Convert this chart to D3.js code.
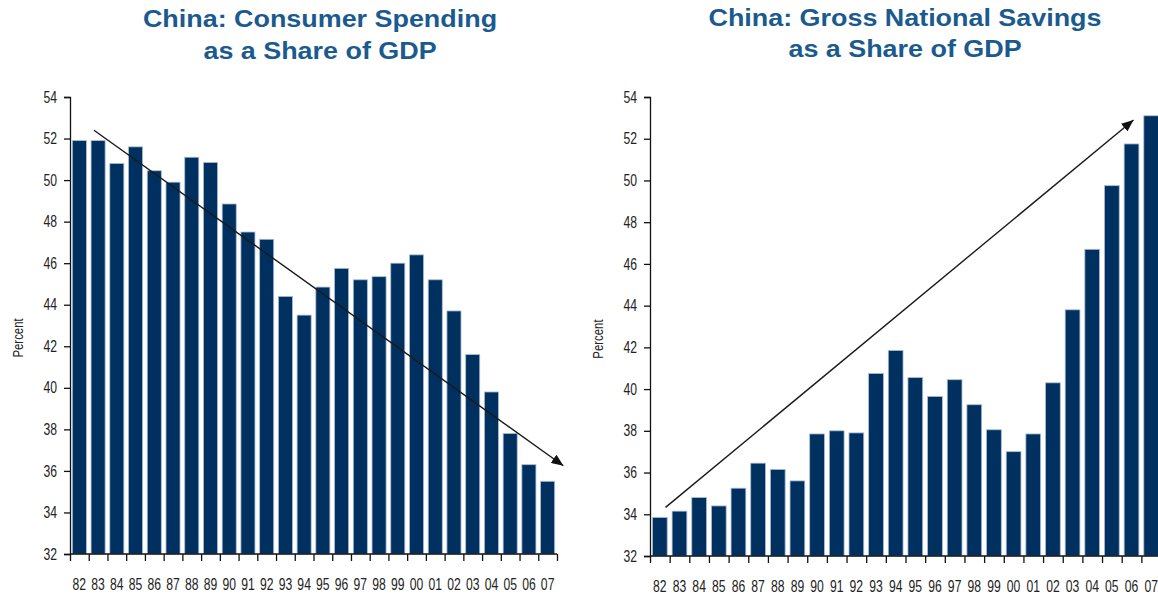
<!doctype html>
<html>
  <head>
    <meta charset="utf-8">
    <title>China: Consumer Spending and Gross National Savings</title>
    <script src="https://cdn.jsdelivr.net/npm/d3@7"></script>
    <style>
      body { margin: 0; background: #fff; }
      .title { font-family: "Liberation Sans", Arial, sans-serif; font-weight: bold; font-size: 23px; fill: #1b5a8f; }
      .axis text { font-family: "Liberation Sans", Arial, sans-serif; font-size: 16px; fill: #222; }
      .ylab { font-family: "Liberation Sans", Arial, sans-serif; font-size: 15px; fill: #222; }
    </style>
  </head>
  <body>
  <script>

  // years shown on both charts
  var years = ["82","83","84","85","86","87","88","89","90","91","92","93","94",
               "95","96","97","98","99","00","01","02","03","04","05","06","07"];

  // consumer spending, % of GDP
  var spending = [51.9, 51.9, 50.8, 51.6, 50.45, 49.9, 51.1, 50.85, 48.85, 47.5, 47.15, 44.4, 43.5,
                  44.85, 45.75, 45.2, 45.35, 46.0, 46.4, 45.2, 43.7, 41.6, 39.8, 37.8, 36.3, 35.5];

  // gross national savings, % of GDP
  var savings = [33.85, 34.15, 34.8, 34.4, 35.25, 36.45, 36.15, 35.6, 37.85, 38.0, 37.9, 40.75, 41.85,
                 40.55, 39.65, 40.45, 39.25, 38.05, 37.0, 37.85, 40.3, 43.8, 46.7, 49.75, 51.75, 53.1];

  var yTicks = [32, 34, 36, 38, 40, 42, 44, 46, 48, 50, 52, 54];

  // trend arrows: [category position, value] for start and tip
  var spendingTrend = [[1.28, 52.4], [26.34, 36.25]];
  var savingsTrend = [[0.79, 34.33], [24.6, 52.9]];

  var width = 1158;
  var height = 596;
  var barColor = "#00305f";
  var narrow = 0.76;   // squeeze for the narrow axis font

  var svg = d3.select("body").append("svg")
    .attr("width", width)
    .attr("height", height);

  svg.append("defs").append("marker")
    .attr("id", "head")
    .attr("viewBox", "0 0 12 10")
    .attr("refX", 12).attr("refY", 5)
    .attr("markerWidth", 12).attr("markerHeight", 10)
    .attr("markerUnits", "userSpaceOnUse")
    .attr("orient", "auto")
    .append("path")
    .attr("d", "M0,0 L12,5 L0,10 Z")
    .attr("fill", "#111");

  function drawChart(opts) {
    var g = svg.append("g");

    var x = d3.scaleBand().domain(years).range(opts.xr).paddingInner(0.25).paddingOuter(0.125);
    var xi = d3.scaleLinear().domain([0, years.length]).range(opts.xr);
    var y = d3.scaleLinear().domain([32, 54]).range(opts.yr);

    g.selectAll("rect.bar").data(opts.values).enter()
      .append("rect")
      .attr("class", "bar")
      .attr("x", function (d, i) { return x(years[i]); })
      .attr("width", x.bandwidth())
      .attr("y", function (d) { return y(d); })
      .attr("height", function (d) { return y(32) - y(d); })
      .attr("fill", barColor)
      .attr("stroke", "#a9bdd3")
      .attr("stroke-width", 0.8);

    // y axis
    var ya = g.append("g").attr("class", "axis")
      .attr("transform", "translate(" + opts.xr[0] + ",0)")
      .call(d3.axisLeft(y).tickValues(yTicks).tickSize(6).tickPadding(11));
    ya.selectAll("line, path").attr("stroke", "#111").attr("stroke-width", 1.3);
    ya.selectAll("text").attr("transform", "scale(" + narrow + ",1)");

    // x axis: ticks between bars, labels centered under bars
    var xa = g.append("g").attr("class", "axis")
      .attr("transform", "translate(0," + opts.yr[0] + ")")
      .call(d3.axisBottom(xi).tickValues(d3.range(0, years.length + 1)).tickSize(7).tickFormat(""));
    xa.selectAll("line, path").attr("stroke", "#111").attr("stroke-width", 1.3);
    xa.select("path").attr("d", "M" + opts.xr[0] + ",0H" + opts.xr[1]);

    var xl = g.append("g").attr("class", "axis")
      .attr("transform", "translate(0," + opts.yr[0] + ")")
      .call(d3.axisBottom(x).tickSize(0).tickPadding(25));
    xl.select("path").remove();
    xl.selectAll("text").attr("transform", "scale(" + narrow + ",1)");

    // y label
    g.append("text")
      .attr("class", "ylab")
      .attr("transform", "translate(" + opts.ylabX + "," + y(42.4) + ") rotate(-90) scale(" + narrow + ",1)")
      .attr("text-anchor", "middle")
      .text("Percent");

    // title, stretched a little wider like the original
    opts.title.forEach(function (line, i) {
      g.append("text")
        .attr("class", "title")
        .attr("text-anchor", "middle")
        .attr("transform", "translate(" + opts.titleX + "," + opts.titleY[i] + ") scale(1.17,1)")
        .text(line);
    });

    // trend arrow
    g.append("line")
      .attr("x1", xi(opts.trend[0][0])).attr("y1", y(opts.trend[0][1]))
      .attr("x2", xi(opts.trend[1][0])).attr("y2", y(opts.trend[1][1]))
      .attr("stroke", "#1a1a1a")
      .attr("stroke-width", 1.4)
      .attr("marker-end", "url(#head)");
  }

  drawChart({
    values: spending,
    xr: [70, 557], yr: [554, 97],
    title: ["China: Consumer Spending", "as a Share of GDP"],
    titleX: 320, titleY: [27, 59],
    ylabX: 23,
    trend: spendingTrend
  });

  drawChart({
    values: savings,
    xr: [650, 1161], yr: [556, 97],
    title: ["China: Gross National Savings", "as a Share of GDP"],
    titleX: 905, titleY: [26, 57],
    ylabX: 603,
    trend: savingsTrend
  });

  </script>
  </body>
</html>
